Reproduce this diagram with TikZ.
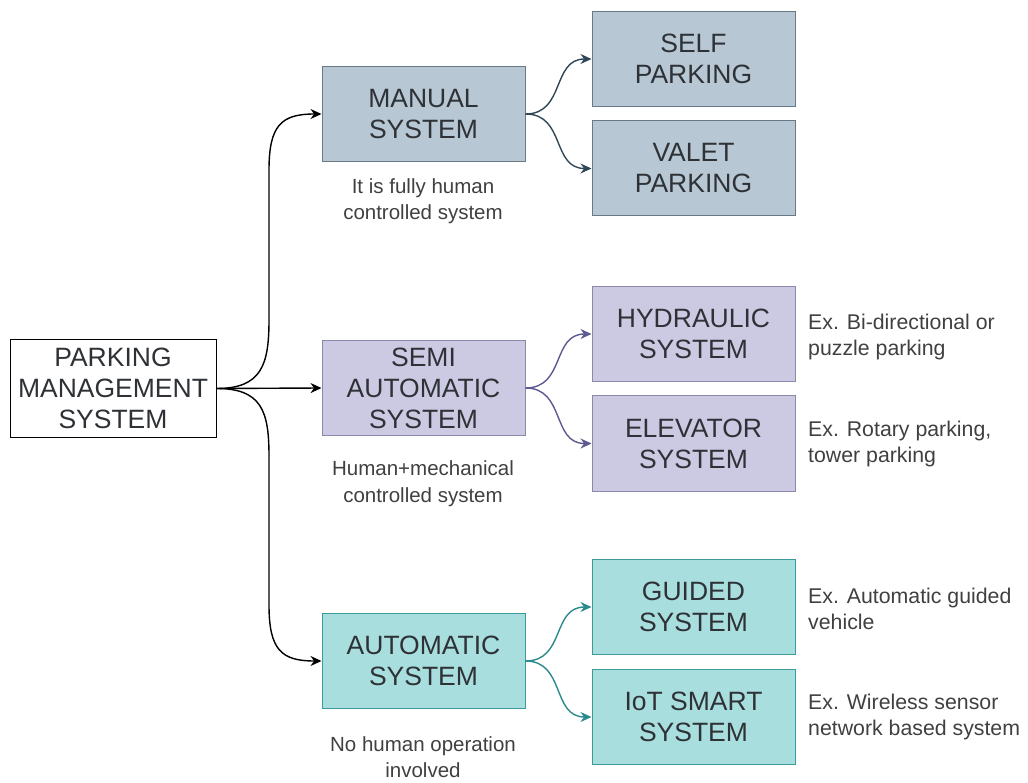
\documentclass[tikz,border=0pt]{standalone}
\usepackage{fontspec}
\setmainfont{Liberation Sans}
\usetikzlibrary{arrows.meta}

\definecolor{mfill}{HTML}{B7C7D4}
\definecolor{mline}{HTML}{687A89}
\definecolor{marr}{HTML}{2F4858}
\definecolor{sfill}{HTML}{CCC9E3}
\definecolor{sline}{HTML}{8B89AB}
\definecolor{sarr}{HTML}{5C5A8F}
\definecolor{afill}{HTML}{A9DEDF}
\definecolor{aline}{HTML}{3C9A9A}
\definecolor{aarr}{HTML}{2B8A8D}
\definecolor{boxtext}{HTML}{2E3236}
\definecolor{notetext}{HTML}{404040}

\tikzset{
  box/.style={draw, line width=1pt, minimum width=203pt, minimum height=95pt,
    inner sep=0pt, align=center, text=boxtext,
    font=\fontsize{26.5}{31}\selectfont},
  rootbox/.style={box, fill=white, draw=black, minimum width=206pt, minimum height=97pt},
  manbox/.style={box, fill=mfill, draw=mline},
  semibox/.style={box, fill=sfill, draw=sline},
  autobox/.style={box, fill=afill, draw=aline},
  note/.style={align=center, text=notetext, inner sep=0pt,
    font=\fontsize{20.5}{26.5}\selectfont},
  sidenote/.style={note, align=left, anchor=west,
    font=\fontsize{21.3}{26.5}\selectfont},
  link/.style={line width=1.4pt, -{Stealth[length=11pt,width=10pt]}},
}

\begin{document}
\begin{tikzpicture}[x=1pt, y=-1pt]
\useasboundingbox (0,0) rectangle (1028,783);

% root
\node[rootbox] (pms) at (113,388.5) {PARKING\\MANAGEMENT\\SYSTEM};

% first level
\node[manbox]  (manual) at (423.5,114) {MANUAL\\SYSTEM};
\node[semibox] (semi)   at (423.5,388) {SEMI\\AUTOMATIC\\SYSTEM};
\node[autobox] (auto)   at (423.5,661) {AUTOMATIC\\SYSTEM};

% second level
\node[manbox]  (self)   at (693.5,59)    {SELF\\PARKING};
\node[manbox]  (valet)  at (693.5,168.5) {VALET\\PARKING};
\node[semibox] (hyd)    at (693.5,334)   {HYDRAULIC\\SYSTEM};
\node[semibox] (elev)   at (693.5,443.5) {ELEVATOR\\SYSTEM};
\node[autobox] (guided) at (693.5,607)   {GUIDED\\SYSTEM};
\node[autobox] (iot)    at (693.5,717)   {IoT SMART\\SYSTEM};

% captions under first-level boxes
\node[note] (mcap) at (423,201)   {It is fully human\\controlled system};
\node[note] (scap) at (423,483.5) {Human+mechanical\\controlled system};
\node[note] (acap) at (423,757)   {No human operation\\involved};

% examples beside second-level boxes
\node[sidenote] (hnote) at (808,337) {Ex. Bi-directional or\\puzzle parking};
\node[sidenote] (enote) at (808,444) {Ex. Rotary parking,\\tower parking};
\node[sidenote] (gnote) at (808,609) {Ex. Automatic guided\\vehicle};
\node[sidenote] (inote) at (808,717) {Ex. Wireless sensor\\network based system};

% bends of the root connectors
\coordinate (up1) at (269,320);
\coordinate (up2) at (269,170);
\coordinate (dn1) at (269,456);
\coordinate (dn2) at (269,605);

% root connectors
\draw[link] (pms.east) .. controls +(45,0) and +(0,45) .. (up1) -- (up2)
  .. controls +(0,-45) and +(-40,0) .. (manual.west);
\draw[link] (pms.east) -- (semi.west);
\draw[link] (pms.east) .. controls +(45,0) and +(0,-45) .. (dn1) -- (dn2)
  .. controls +(0,45) and +(-40,0) .. (auto.west);

% branch connectors
\draw[link, draw=marr] (manual.east) .. controls +(40,0) and +(-40,0) .. (self.west);
\draw[link, draw=marr] (manual.east) .. controls +(40,0) and +(-40,0) .. (valet.west);
\draw[link, draw=sarr] (semi.east) .. controls +(40,0) and +(-40,0) .. (hyd.west);
\draw[link, draw=sarr] (semi.east) .. controls +(40,0) and +(-40,0) .. (elev.west);
\draw[link, draw=aarr] (auto.east) .. controls +(40,0) and +(-40,0) .. (guided.west);
\draw[link, draw=aarr] (auto.east) .. controls +(40,0) and +(-40,0) .. (iot.west);
\end{tikzpicture}
\end{document}
